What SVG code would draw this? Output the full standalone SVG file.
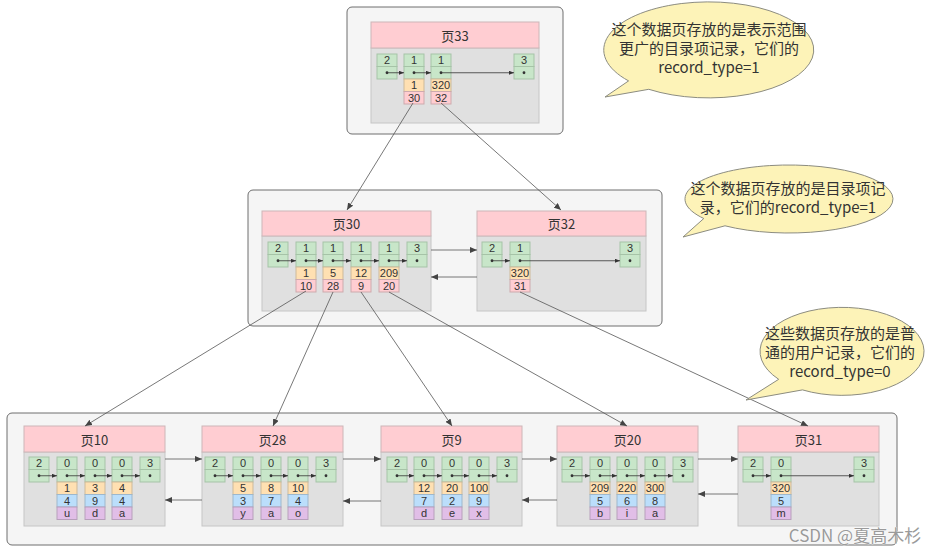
<svg xmlns="http://www.w3.org/2000/svg" width="939" height="551" viewBox="0 0 939 551">
<style>
.outer{fill:#f5f5f5;stroke:#6e6e6e;stroke-width:1}
.body{fill:#e0e0e0;stroke:#c6c6c6;stroke-width:1}
.hdr{fill:#ffcdd2;stroke:#cdb6b8;stroke-width:1}
.g{fill:#c8e6c9;stroke:#a6c3a7;stroke-width:1}
.o{fill:#ffe0b2;stroke:#cdb999;stroke-width:1}
.p{fill:#ffcdd2;stroke:#cdaaad;stroke-width:1}
.b{fill:#bbdefb;stroke:#9db7cc;stroke-width:1}
.u{fill:#e1bee7;stroke:#b79fbb;stroke-width:1}
.t{font-family:"Liberation Sans","Noto Sans CJK SC",sans-serif;font-size:11px;fill:#333;text-anchor:middle;dominant-baseline:central}
.title{font-family:"Noto Sans CJK SC","Noto Sans",sans-serif;font-size:13px}
.dot{fill:#333}
.lnk{stroke:#333;stroke-width:0.8;fill:none;marker-end:url(#sm)}
.con{stroke:#555;stroke-width:0.8;fill:none;marker-end:url(#ah)}
.bub{fill:#fdf3b8;stroke:#8c8c80;stroke-width:1}
.bt{font-family:"Noto Sans CJK SC",sans-serif;font-size:15px;fill:#333;text-anchor:middle;dominant-baseline:central}
</style>
<defs>
<marker id="ah" markerUnits="userSpaceOnUse" markerWidth="7" markerHeight="6" refX="7" refY="3" orient="auto"><path d="M0,0 L7,3 L0,6 z" fill="#444"/></marker>
<marker id="sm" markerUnits="userSpaceOnUse" markerWidth="5" markerHeight="4" refX="5" refY="2" orient="auto"><path d="M0,0 L5,2 L0,4 z" fill="#333"/></marker>
</defs>

<g id="level2-box"><rect class="outer" x="347" y="7" width="216" height="127" rx="5"/></g>
<g id="level1-box"><rect class="outer" x="248" y="190" width="414" height="136" rx="5"/></g>
<g id="level0-box"><rect class="outer" x="7" y="413" width="890" height="132" rx="5"/></g>

<g id="page33">
<rect class="body" x="371" y="48" width="168" height="75"/>
<rect class="hdr" x="371" y="22" width="168" height="26"/>
<text class="t title" x="455" y="35">页33</text>
<rect class="g" x="377" y="54" width="20" height="12.5"/><rect class="g" x="377" y="66.5" width="20" height="12.5"/>
<rect class="g" x="404" y="54" width="20" height="12.5"/><rect class="g" x="404" y="66.5" width="20" height="12.5"/>
<rect class="g" x="431" y="54" width="20" height="12.5"/><rect class="g" x="431" y="66.5" width="20" height="12.5"/>
<rect class="g" x="514" y="54" width="20" height="12.5"/><rect class="g" x="514" y="66.5" width="20" height="12.5"/>
<rect class="o" x="404" y="79" width="20" height="12.5"/><rect class="o" x="431" y="79" width="20" height="12.5"/>
<rect class="p" x="404" y="91.5" width="20" height="12.5"/><rect class="p" x="431" y="91.5" width="20" height="12.5"/>
<text class="t" x="387" y="60.25">2</text><text class="t" x="414" y="60.25">1</text><text class="t" x="441" y="60.25">1</text><text class="t" x="524" y="60.25">3</text>
<text class="t" x="414" y="85.25">1</text><text class="t" x="441" y="85.25">320</text>
<text class="t" x="414" y="97.75">30</text><text class="t" x="441" y="97.75">32</text>
<circle class="dot" cx="387" cy="72.75" r="1.4"/><circle class="dot" cx="414" cy="72.75" r="1.4"/><circle class="dot" cx="441" cy="72.75" r="1.4"/><circle class="dot" cx="524" cy="72.75" r="1.4"/>
<path class="lnk" d="M387,72.75 H404"/><path class="lnk" d="M414,72.75 H431"/><path class="lnk" d="M441,72.75 H514"/>
</g>

<g id="page30">
<rect class="body" x="262" y="236" width="169" height="75"/>
<rect class="hdr" x="262" y="211" width="169" height="25"/>
<text class="t title" x="346.5" y="223.5">页30</text>
<rect class="g" x="268" y="242" width="20" height="12.5"/><rect class="g" x="268" y="254.5" width="20" height="12.5"/>
<rect class="g" x="296" y="242" width="20" height="12.5"/><rect class="g" x="296" y="254.5" width="20" height="12.5"/>
<rect class="g" x="323" y="242" width="20" height="12.5"/><rect class="g" x="323" y="254.5" width="20" height="12.5"/>
<rect class="g" x="351" y="242" width="20" height="12.5"/><rect class="g" x="351" y="254.5" width="20" height="12.5"/>
<rect class="g" x="379" y="242" width="20" height="12.5"/><rect class="g" x="379" y="254.5" width="20" height="12.5"/>
<rect class="g" x="407" y="242" width="20" height="12.5"/><rect class="g" x="407" y="254.5" width="20" height="12.5"/>
<rect class="o" x="296" y="267" width="20" height="12.5"/><rect class="o" x="323" y="267" width="20" height="12.5"/><rect class="o" x="351" y="267" width="20" height="12.5"/><rect class="o" x="379" y="267" width="20" height="12.5"/>
<rect class="p" x="296" y="279.5" width="20" height="12.5"/><rect class="p" x="323" y="279.5" width="20" height="12.5"/><rect class="p" x="351" y="279.5" width="20" height="12.5"/><rect class="p" x="379" y="279.5" width="20" height="12.5"/>
<text class="t" x="278" y="248.25">2</text><text class="t" x="306" y="248.25">1</text><text class="t" x="333" y="248.25">1</text><text class="t" x="361" y="248.25">1</text><text class="t" x="389" y="248.25">1</text><text class="t" x="417" y="248.25">3</text>
<text class="t" x="306" y="273.25">1</text><text class="t" x="333" y="273.25">5</text><text class="t" x="361" y="273.25">12</text><text class="t" x="389" y="273.25">209</text>
<text class="t" x="306" y="285.75">10</text><text class="t" x="333" y="285.75">28</text><text class="t" x="361" y="285.75">9</text><text class="t" x="389" y="285.75">20</text>
<circle class="dot" cx="278" cy="260.75" r="1.4"/><circle class="dot" cx="306" cy="260.75" r="1.4"/><circle class="dot" cx="333" cy="260.75" r="1.4"/><circle class="dot" cx="361" cy="260.75" r="1.4"/><circle class="dot" cx="389" cy="260.75" r="1.4"/><circle class="dot" cx="417" cy="260.75" r="1.4"/>
<path class="lnk" d="M278,260.75 H296"/><path class="lnk" d="M306,260.75 H323"/><path class="lnk" d="M333,260.75 H351"/><path class="lnk" d="M361,260.75 H379"/><path class="lnk" d="M389,260.75 H407"/>
</g>

<g id="page32">
<rect class="body" x="477" y="236" width="169" height="75"/>
<rect class="hdr" x="477" y="211" width="169" height="25"/>
<text class="t title" x="561.5" y="223.5">页32</text>
<rect class="g" x="482" y="242" width="20" height="12.5"/><rect class="g" x="482" y="254.5" width="20" height="12.5"/>
<rect class="g" x="510" y="242" width="20" height="12.5"/><rect class="g" x="510" y="254.5" width="20" height="12.5"/>
<rect class="g" x="620" y="242" width="20" height="12.5"/><rect class="g" x="620" y="254.5" width="20" height="12.5"/>
<rect class="o" x="510" y="267" width="20" height="12.5"/><rect class="p" x="510" y="279.5" width="20" height="12.5"/>
<text class="t" x="492" y="248.25">2</text><text class="t" x="520" y="248.25">1</text><text class="t" x="630" y="248.25">3</text>
<text class="t" x="520" y="273.25">320</text><text class="t" x="520" y="285.75">31</text>
<circle class="dot" cx="492" cy="260.75" r="1.4"/><circle class="dot" cx="520" cy="260.75" r="1.4"/><circle class="dot" cx="630" cy="260.75" r="1.4"/>
<path class="lnk" d="M492,260.75 H510"/><path class="lnk" d="M520,260.75 H620"/>
</g>

<g id="page10">
<rect class="body" x="24" y="452" width="141" height="74"/>
<rect class="hdr" x="24" y="426" width="141" height="26"/>
<text class="t title" x="94.5" y="439">页10</text>
<rect class="g" x="29" y="457" width="20" height="12.5"/><rect class="g" x="29" y="469.5" width="20" height="12.5"/>
<rect class="g" x="57" y="457" width="20" height="12.5"/><rect class="g" x="57" y="469.5" width="20" height="12.5"/>
<rect class="g" x="85" y="457" width="20" height="12.5"/><rect class="g" x="85" y="469.5" width="20" height="12.5"/>
<rect class="g" x="112" y="457" width="20" height="12.5"/><rect class="g" x="112" y="469.5" width="20" height="12.5"/>
<rect class="g" x="140" y="457" width="20" height="12.5"/><rect class="g" x="140" y="469.5" width="20" height="12.5"/>
<rect class="o" x="57" y="482" width="20" height="12.5"/><rect class="o" x="85" y="482" width="20" height="12.5"/><rect class="o" x="112" y="482" width="20" height="12.5"/>
<rect class="b" x="57" y="494.5" width="20" height="12.5"/><rect class="b" x="85" y="494.5" width="20" height="12.5"/><rect class="b" x="112" y="494.5" width="20" height="12.5"/>
<rect class="u" x="57" y="507" width="20" height="12.5"/><rect class="u" x="85" y="507" width="20" height="12.5"/><rect class="u" x="112" y="507" width="20" height="12.5"/>
<text class="t" x="39" y="463.25">2</text><text class="t" x="67" y="463.25">0</text><text class="t" x="95" y="463.25">0</text><text class="t" x="122" y="463.25">0</text><text class="t" x="150" y="463.25">3</text>
<text class="t" x="67" y="488.25">1</text><text class="t" x="95" y="488.25">3</text><text class="t" x="122" y="488.25">4</text>
<text class="t" x="67" y="500.75">4</text><text class="t" x="95" y="500.75">9</text><text class="t" x="122" y="500.75">4</text>
<text class="t" x="67" y="513.25">u</text><text class="t" x="95" y="513.25">d</text><text class="t" x="122" y="513.25">a</text>
<circle class="dot" cx="39" cy="475.75" r="1.4"/><circle class="dot" cx="67" cy="475.75" r="1.4"/><circle class="dot" cx="95" cy="475.75" r="1.4"/><circle class="dot" cx="122" cy="475.75" r="1.4"/><circle class="dot" cx="150" cy="475.75" r="1.4"/>
<path class="lnk" d="M39,475.75 H57"/><path class="lnk" d="M67,475.75 H85"/><path class="lnk" d="M95,475.75 H112"/><path class="lnk" d="M122,475.75 H140"/>
</g>

<g id="page28">
<rect class="body" x="202" y="452" width="141" height="74"/>
<rect class="hdr" x="202" y="426" width="141" height="26"/>
<text class="t title" x="272.5" y="439">页28</text>
<rect class="g" x="205" y="457" width="20" height="12.5"/><rect class="g" x="205" y="469.5" width="20" height="12.5"/>
<rect class="g" x="233" y="457" width="20" height="12.5"/><rect class="g" x="233" y="469.5" width="20" height="12.5"/>
<rect class="g" x="261" y="457" width="20" height="12.5"/><rect class="g" x="261" y="469.5" width="20" height="12.5"/>
<rect class="g" x="288" y="457" width="20" height="12.5"/><rect class="g" x="288" y="469.5" width="20" height="12.5"/>
<rect class="g" x="316" y="457" width="20" height="12.5"/><rect class="g" x="316" y="469.5" width="20" height="12.5"/>
<rect class="o" x="233" y="482" width="20" height="12.5"/><rect class="o" x="261" y="482" width="20" height="12.5"/><rect class="o" x="288" y="482" width="20" height="12.5"/>
<rect class="b" x="233" y="494.5" width="20" height="12.5"/><rect class="b" x="261" y="494.5" width="20" height="12.5"/><rect class="b" x="288" y="494.5" width="20" height="12.5"/>
<rect class="u" x="233" y="507" width="20" height="12.5"/><rect class="u" x="261" y="507" width="20" height="12.5"/><rect class="u" x="288" y="507" width="20" height="12.5"/>
<text class="t" x="215" y="463.25">2</text><text class="t" x="243" y="463.25">0</text><text class="t" x="271" y="463.25">0</text><text class="t" x="298" y="463.25">0</text><text class="t" x="326" y="463.25">3</text>
<text class="t" x="243" y="488.25">5</text><text class="t" x="271" y="488.25">8</text><text class="t" x="298" y="488.25">10</text>
<text class="t" x="243" y="500.75">3</text><text class="t" x="271" y="500.75">7</text><text class="t" x="298" y="500.75">4</text>
<text class="t" x="243" y="513.25">y</text><text class="t" x="271" y="513.25">a</text><text class="t" x="298" y="513.25">o</text>
<circle class="dot" cx="215" cy="475.75" r="1.4"/><circle class="dot" cx="243" cy="475.75" r="1.4"/><circle class="dot" cx="271" cy="475.75" r="1.4"/><circle class="dot" cx="298" cy="475.75" r="1.4"/><circle class="dot" cx="326" cy="475.75" r="1.4"/>
<path class="lnk" d="M215,475.75 H233"/><path class="lnk" d="M243,475.75 H261"/><path class="lnk" d="M271,475.75 H288"/><path class="lnk" d="M298,475.75 H316"/>
</g>

<g id="page9">
<rect class="body" x="381" y="452" width="141" height="74"/>
<rect class="hdr" x="381" y="426" width="141" height="26"/>
<text class="t title" x="451.5" y="439">页9</text>
<rect class="g" x="387" y="457" width="20" height="12.5"/><rect class="g" x="387" y="469.5" width="20" height="12.5"/>
<rect class="g" x="414" y="457" width="20" height="12.5"/><rect class="g" x="414" y="469.5" width="20" height="12.5"/>
<rect class="g" x="442" y="457" width="20" height="12.5"/><rect class="g" x="442" y="469.5" width="20" height="12.5"/>
<rect class="g" x="469" y="457" width="20" height="12.5"/><rect class="g" x="469" y="469.5" width="20" height="12.5"/>
<rect class="g" x="497" y="457" width="20" height="12.5"/><rect class="g" x="497" y="469.5" width="20" height="12.5"/>
<rect class="o" x="414" y="482" width="20" height="12.5"/><rect class="o" x="442" y="482" width="20" height="12.5"/><rect class="o" x="469" y="482" width="20" height="12.5"/>
<rect class="b" x="414" y="494.5" width="20" height="12.5"/><rect class="b" x="442" y="494.5" width="20" height="12.5"/><rect class="b" x="469" y="494.5" width="20" height="12.5"/>
<rect class="u" x="414" y="507" width="20" height="12.5"/><rect class="u" x="442" y="507" width="20" height="12.5"/><rect class="u" x="469" y="507" width="20" height="12.5"/>
<text class="t" x="397" y="463.25">2</text><text class="t" x="424" y="463.25">0</text><text class="t" x="452" y="463.25">0</text><text class="t" x="479" y="463.25">0</text><text class="t" x="507" y="463.25">3</text>
<text class="t" x="424" y="488.25">12</text><text class="t" x="452" y="488.25">20</text><text class="t" x="479" y="488.25">100</text>
<text class="t" x="424" y="500.75">7</text><text class="t" x="452" y="500.75">2</text><text class="t" x="479" y="500.75">9</text>
<text class="t" x="424" y="513.25">d</text><text class="t" x="452" y="513.25">e</text><text class="t" x="479" y="513.25">x</text>
<circle class="dot" cx="397" cy="475.75" r="1.4"/><circle class="dot" cx="424" cy="475.75" r="1.4"/><circle class="dot" cx="452" cy="475.75" r="1.4"/><circle class="dot" cx="479" cy="475.75" r="1.4"/><circle class="dot" cx="507" cy="475.75" r="1.4"/>
<path class="lnk" d="M397,475.75 H414"/><path class="lnk" d="M424,475.75 H442"/><path class="lnk" d="M452,475.75 H469"/><path class="lnk" d="M479,475.75 H497"/>
</g>

<g id="page20">
<rect class="body" x="557" y="452" width="141" height="74"/>
<rect class="hdr" x="557" y="426" width="141" height="26"/>
<text class="t title" x="627.5" y="439">页20</text>
<rect class="g" x="562" y="457" width="20" height="12.5"/><rect class="g" x="562" y="469.5" width="20" height="12.5"/>
<rect class="g" x="590" y="457" width="20" height="12.5"/><rect class="g" x="590" y="469.5" width="20" height="12.5"/>
<rect class="g" x="617" y="457" width="20" height="12.5"/><rect class="g" x="617" y="469.5" width="20" height="12.5"/>
<rect class="g" x="645" y="457" width="20" height="12.5"/><rect class="g" x="645" y="469.5" width="20" height="12.5"/>
<rect class="g" x="673" y="457" width="20" height="12.5"/><rect class="g" x="673" y="469.5" width="20" height="12.5"/>
<rect class="o" x="590" y="482" width="20" height="12.5"/><rect class="o" x="617" y="482" width="20" height="12.5"/><rect class="o" x="645" y="482" width="20" height="12.5"/>
<rect class="b" x="590" y="494.5" width="20" height="12.5"/><rect class="b" x="617" y="494.5" width="20" height="12.5"/><rect class="b" x="645" y="494.5" width="20" height="12.5"/>
<rect class="u" x="590" y="507" width="20" height="12.5"/><rect class="u" x="617" y="507" width="20" height="12.5"/><rect class="u" x="645" y="507" width="20" height="12.5"/>
<text class="t" x="572" y="463.25">2</text><text class="t" x="600" y="463.25">0</text><text class="t" x="627" y="463.25">0</text><text class="t" x="655" y="463.25">0</text><text class="t" x="683" y="463.25">3</text>
<text class="t" x="600" y="488.25">209</text><text class="t" x="627" y="488.25">220</text><text class="t" x="655" y="488.25">300</text>
<text class="t" x="600" y="500.75">5</text><text class="t" x="627" y="500.75">6</text><text class="t" x="655" y="500.75">8</text>
<text class="t" x="600" y="513.25">b</text><text class="t" x="627" y="513.25">i</text><text class="t" x="655" y="513.25">a</text>
<circle class="dot" cx="572" cy="475.75" r="1.4"/><circle class="dot" cx="600" cy="475.75" r="1.4"/><circle class="dot" cx="627" cy="475.75" r="1.4"/><circle class="dot" cx="655" cy="475.75" r="1.4"/><circle class="dot" cx="683" cy="475.75" r="1.4"/>
<path class="lnk" d="M572,475.75 H590"/><path class="lnk" d="M600,475.75 H617"/><path class="lnk" d="M627,475.75 H645"/><path class="lnk" d="M655,475.75 H673"/>
</g>

<g id="page31">
<rect class="body" x="738" y="452" width="141" height="74"/>
<rect class="hdr" x="738" y="426" width="141" height="26"/>
<text class="t title" x="808.5" y="439">页31</text>
<rect class="g" x="743" y="457" width="20" height="12.5"/><rect class="g" x="743" y="469.5" width="20" height="12.5"/>
<rect class="g" x="771" y="457" width="20" height="12.5"/><rect class="g" x="771" y="469.5" width="20" height="12.5"/>
<rect class="g" x="854" y="457" width="20" height="12.5"/><rect class="g" x="854" y="469.5" width="20" height="12.5"/>
<rect class="o" x="771" y="482" width="20" height="12.5"/><rect class="b" x="771" y="494.5" width="20" height="12.5"/><rect class="u" x="771" y="507" width="20" height="12.5"/>
<text class="t" x="753" y="463.25">2</text><text class="t" x="781" y="463.25">0</text><text class="t" x="864" y="463.25">3</text>
<text class="t" x="781" y="488.25">320</text><text class="t" x="781" y="500.75">5</text><text class="t" x="781" y="513.25">m</text>
<circle class="dot" cx="753" cy="475.75" r="1.4"/><circle class="dot" cx="781" cy="475.75" r="1.4"/><circle class="dot" cx="864" cy="475.75" r="1.4"/>
<path class="lnk" d="M753,475.75 H771"/><path class="lnk" d="M781,475.75 H854"/>
</g>

<g id="connectors">
<path class="con" d="M413,103 L347,210"/>
<path class="con" d="M441,103 L561,210"/>
<path class="con" d="M431,250 H477"/>
<path class="con" d="M477,277 H431"/>
<path class="con" d="M306,291 L85,426"/>
<path class="con" d="M333,292 L273,426"/>
<path class="con" d="M361,292 L452,426"/>
<path class="con" d="M389,292 L627,426"/>
<path class="con" d="M520,292 L808,426"/>
<path class="con" d="M165,459 H202"/>
<path class="con" d="M343,459 H381"/>
<path class="con" d="M522,459 H557"/>
<path class="con" d="M698,459 H738"/>
<path class="con" d="M202,500 H165"/>
<path class="con" d="M381,501 H343"/>
<path class="con" d="M557,500 H522"/>
<path class="con" d="M738,494 H698"/>
</g>

<g id="callout1">
<path class="bub" d="M628.6,80.9 L605,97 L648.8,89.3 A105,48 0 1 0 628.6,80.9 Z"/>
<text class="bt"><tspan x="709" y="28">这个数据页存放的是表示范围</tspan><tspan x="709" y="47">更广的目录项记录，它们的</tspan><tspan x="709" y="66">record_type=1</tspan></text>
</g>
<g id="callout2">
<path class="bub" d="M703.8,218.5 L683,237 L725,225.8 A104,34 0 1 0 703.8,218.5 Z"/>
<text class="bt"><tspan x="788" y="187">这个数据页存放的是目录项记</tspan><tspan x="788" y="206">录，它们的record_type=1</tspan></text>
</g>
<g id="callout3">
<path class="bub" d="M778.7,379.3 L746,400 L802.5,389.9 A82,44 0 1 0 778.7,379.3 Z"/>
<text class="bt"><tspan x="840" y="332">这些数据页存放的是普</tspan><tspan x="840" y="351">通的用户记录，它们的</tspan><tspan x="840" y="370">record_type=0</tspan></text>
</g>

<text x="855" y="534" style="font-family:'Noto Sans CJK SC',sans-serif;font-size:17px;fill:#9a9a9a;text-anchor:middle;dominant-baseline:central;stroke:#ffffff;stroke-width:0.6;paint-order:stroke">CSDN @夏高木杉</text>
</svg>
